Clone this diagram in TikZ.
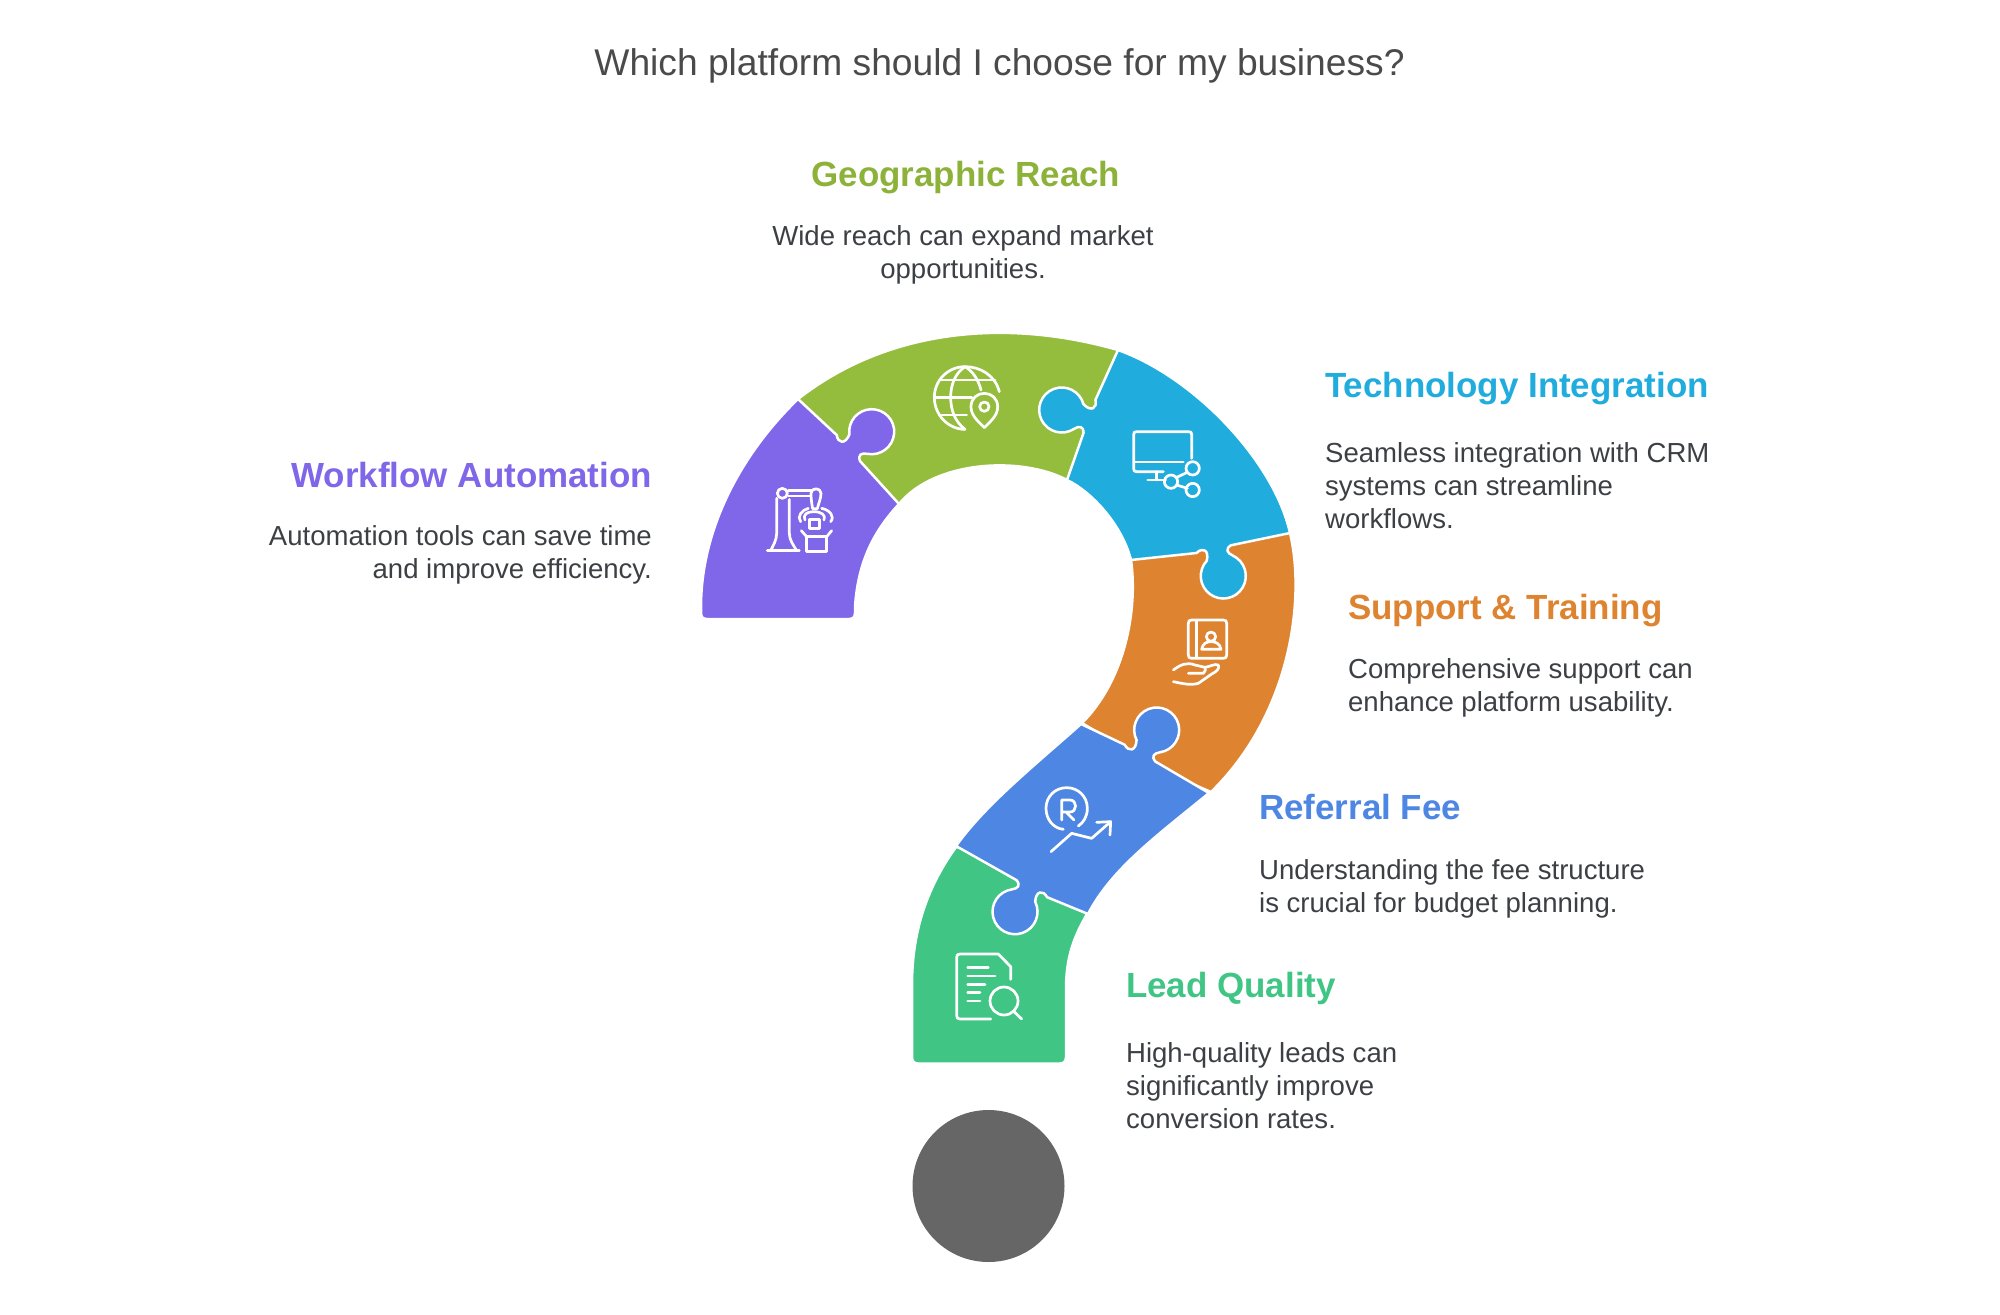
\documentclass[tikz,border=0pt]{standalone}
\usepackage{fontspec}
\setmainfont{Liberation Sans}

\tikzset{
  kf/.style n args={4}{shift={(#1,#2)},rotate=#3,xscale=#4},
  piece/.style={draw=white, line width=.125cm, line join=round},
  icon/.style={draw=white, line width=.135cm, line cap=round, line join=round},
  titletext/.style={inner sep=0, text=titlegray, font=\fontsize{52.9}{60}\selectfont},
  headtext/.style={inner sep=0, font=\bfseries\fontsize{49.7}{58}\selectfont},
  bodytext/.style={inner sep=0, text=bodygray, font=\fontsize{39.2}{47}\selectfont},
}

% one puzzle knob, given its centre, rotation and mirror
\newcommand{\knob}[4]{-- ([kf={#1}{#2}{#3}{#4}]-22,27.5)
  .. controls ([kf={#1}{#2}{#3}{#4}]-15,32.5) and ([kf={#1}{#2}{#3}{#4}]-9,28) .. ([kf={#1}{#2}{#3}{#4}]-13.5,18)
  .. controls ([kf={#1}{#2}{#3}{#4}]-24.2,10) and ([kf={#1}{#2}{#3}{#4}]-25.6,-5.5) .. ([kf={#1}{#2}{#3}{#4}]-16.5,-15.3)
  .. controls ([kf={#1}{#2}{#3}{#4}]-7.4,-25.1) and ([kf={#1}{#2}{#3}{#4}]8.1,-24.9) .. ([kf={#1}{#2}{#3}{#4}]16.9,-14.85)
  .. controls ([kf={#1}{#2}{#3}{#4}]25.7,-4.8) and ([kf={#1}{#2}{#3}{#4}]23.9,10.7) .. ([kf={#1}{#2}{#3}{#4}]13,18.4)
  .. controls ([kf={#1}{#2}{#3}{#4}]8,22) and ([kf={#1}{#2}{#3}{#4}]6.5,26) .. ([kf={#1}{#2}{#3}{#4}]13,28.8)}

\begin{document}
\begin{tikzpicture}[x=.05cm,y=-.05cm]

\definecolor{workflowcolor}{HTML}{8066E8}
\definecolor{geocolor}{HTML}{94BC3D}
\definecolor{techcolor}{HTML}{20ACDC}
\definecolor{supportcolor}{HTML}{DE8330}
\definecolor{referralcolor}{HTML}{4E86E3}
\definecolor{leadcolor}{HTML}{40C585}
\definecolor{dotgray}{HTML}{666666}
\definecolor{titlegray}{HTML}{4A4A4A}
\definecolor{bodygray}{HTML}{3C3F44}

    \useasboundingbox (0,0) rectangle (2000,1315);

    %% lower pieces, their seams stay under the knobbed ones
    \draw[piece, fill=geocolor] (798,399) .. controls (890,327) and (1010,319) .. (1118,350)
      -- (1100,430) -- (1067,480) .. controls (1022,456) and (935,460) .. (899,504) -- (840,470) -- cycle;
    \draw[piece, fill=supportcolor] (1290,533) .. controls (1306,600) and (1290,715) .. (1211,792)
      -- (1160,770) -- (1082,723) .. controls (1125,680) and (1138,610) .. (1131,560) -- (1220,530) -- cycle;
    \draw[piece, fill=leadcolor] (956,847) .. controls (925,890) and (912,935) .. (912,985)
      -- (912,1057) .. controls (912,1061) and (914,1063.5) .. (918,1063.5) -- (1060,1063.5)
      .. controls (1064,1063.5) and (1066,1061) .. (1066,1057) -- (1066,990)
      .. controls (1066,960) and (1072,940) .. (1087,914) -- (1020,860) -- cycle;

    %% pieces with knobs
    \draw[piece, fill=workflowcolor] (798,399) \knob{871.7}{431.7}{-46}{1} -- (899,504)
      .. controls (875,530) and (858,560) .. (855,607) -- (855,613)
      .. controls (855,617) and (853,619) .. (849,619) -- (707,619)
      .. controls (703,619) and (701,617) .. (701,613) -- (701,607)
      .. controls (701,529) and (741,454) .. cycle;
    \draw[piece, fill=techcolor] (1118,350) \knob{1061.7}{410}{68}{-1} -- (1067,480)
      .. controls (1092,492) and (1122,525) .. (1131,560) \knob{1223.3}{576}{190.5}{-1} -- (1290,533)
      .. controls (1274,461) and (1194,377) .. cycle;
    \draw[piece, fill=referralcolor] (1081,724) \knob{1156.7}{730}{-26.6}{1} -- (1209,793)
      .. controls (1158,835) and (1112,868) .. (1088,914) \knob{1015}{911.7}{153}{1} -- (956,846)
      .. controls (985,805) and (1035,765) .. cycle;

    %% the dot
    \node[circle, fill=dotgray, inner sep=0, minimum size=7.6cm] (dot) at (988.5,1186) {};

    %% workflow icon
    \begin{scope}[shift={(680,320)},scale=1/3]
      \draw[icon] (307,520) circle[radius=15];
      \draw[icon] (325,512) -- (395,512) (325,528) -- (392,528);
      \draw[icon] (393,520) .. controls (393,502) and (423,502) .. (423,520) .. controls (423,535) and (415,552) .. (412,566) -- (398,566) .. controls (395,552) and (393,535) .. (393,520);
      \draw[icon] (290,535) -- (290,640) .. controls (290,660) and (280,675) .. (272,692);
      \draw[icon] (328,538) -- (328,640) .. controls (328,660) and (340,675) .. (350,692);
      \draw[icon] (262,692) -- (358,692);
      \draw[icon] (385,565) .. controls (365,570) and (350,590) .. (362,605) (375,600) .. controls (368,585) and (380,575) .. (400,575) .. controls (425,575) and (438,585) .. (432,600) (425,565) .. controls (450,570) and (465,590) .. (452,605);
      \draw[icon] (388,598) rectangle (418,625);
      \draw[icon] (380,650) rectangle (440,694);
      \draw[icon] (364,632) -- (380,650) (455,632) -- (440,650);
    \end{scope}

    %% geographic icon
    \begin{scope}[shift={(680,320)},scale=1/3]
      \draw[icon] (958,215) .. controls (945,165) and (900,140) .. (855,140) .. controls (805,140) and (763,180) .. (763,232) .. controls (763,285) and (805,328) .. (855,328);
      \draw[icon] (855,140) .. controls (825,160) and (812,195) .. (812,232) .. controls (812,270) and (825,305) .. (855,328);
      \draw[icon] (855,140) .. controls (880,155) and (895,180) .. (903,210);
      \draw[icon] (785,180) -- (945,180) (765,232) -- (875,232) (785,285) -- (860,285);
      \draw[icon] (913,323) .. controls (890,300) and (873,285) .. (873,260) .. controls (873,235) and (892,220) .. (913,220) .. controls (934,220) and (953,235) .. (953,260) .. controls (953,285) and (936,300) .. (913,323);
      \draw[icon] (913,260) circle[radius=14];
    \end{scope}

    %% technology icon
    \begin{scope}[shift={(1000,330)},scale=1/3]
      \draw[icon] (490,425) -- (410,425) .. controls (403,425) and (401,423) .. (401,416) -- (401,314) .. controls (401,307) and (403,305) .. (410,305) -- (566,305) .. controls (573,305) and (575,307) .. (575,314) -- (575,385);
      \draw[icon] (403,396) -- (550,396);
      \draw[icon] (470,425) -- (470,450) (443,450) -- (497,450);
      \draw[icon] (578,415) circle[radius=20] (513,455) circle[radius=20] (578,480) circle[radius=20];
      \draw[icon] (530,442) -- (562,427) (530,465) -- (562,475);
    \end{scope}

    %% support icon
    \begin{scope}[shift={(1040,520)},scale=1/3]
      \draw[icon] (455,300) -- (550,300) .. controls (557,300) and (560,303) .. (560,310) -- (560,405) .. controls (560,412) and (557,415) .. (550,415) -- (455,415) .. controls (448,415) and (445,412) .. (445,405) -- (445,310) .. controls (445,303) and (448,300) .. (455,300);
      \draw[icon] (470,302) -- (470,413);
      \draw[icon] (513,350) circle[radius=14];
      \draw[icon] (485,388) .. controls (488,370) and (500,365) .. (513,365) .. controls (526,365) and (540,370) .. (543,388) -- cycle;
      \draw[icon] (400,450) .. controls (420,435) and (440,425) .. (465,435) -- (495,442) .. controls (510,440) and (525,430) .. (535,435) .. controls (540,445) and (530,455) .. (515,462) -- (475,490) .. controls (450,497) and (425,490) .. (400,485);
      \draw[icon] (445,460) -- (490,460) .. controls (497,455) and (497,447) .. (495,442);
    \end{scope}

    %% referral icon
    \begin{scope}[shift={(900,700)},scale=1/3]
      \draw[icon] (490,388) .. controls (460,385) and (438,358) .. (438,325) .. controls (438,290) and (465,263) .. (500,263) .. controls (535,263) and (562,290) .. (562,325) .. controls (562,350) and (550,368) .. (535,378);
      \draw[icon] (485,360) -- (485,300) -- (510,300) .. controls (532,300) and (532,336) .. (510,336) -- (485,336) (498,336) -- (522,360);
      \draw[icon] (453,455) -- (515,400) -- (575,415) -- (632,365);
      \draw[icon] (590,367) -- (632,365) -- (630,405);
    \end{scope}

    %% lead icon
    \begin{scope}[shift={(900,700)},scale=1/3]
      \draw[icon] (272,957) -- (180,957) .. controls (173,957) and (170,954) .. (170,947) -- (170,772) .. controls (170,765) and (173,762) .. (180,762) -- (295,762) -- (332,800) -- (332,838);
      \draw[icon] (203,803) -- (265,803) (203,828) -- (285,828) (203,853) -- (255,853) (203,878) -- (240,878) (203,903) -- (240,903);
      \draw[icon] (312,903) circle[radius=42];
      \draw[icon] (342,935) -- (365,957);
    \end{scope}

    %% title
    \node[titletext] (title) at (999.5,66) {Which platform should I choose for my business?};

    %% labels
    \node[headtext, text=geocolor!95!black] (geohead) at (966,177.5) {Geographic Reach};
    \node[bodytext, align=center] (geobody) at (963,255) {Wide reach can expand market\\opportunities.};

    \node[headtext, text=techcolor, anchor=mid west] (techhead) at (1325,396) {Technology Integration};
    \node[bodytext, align=left, anchor=west] (techbody) at (1325,486) {Seamless integration with CRM\\systems can streamline\\workflows.};

    \node[headtext, text=workflowcolor, anchor=mid east] (workflowhead) at (652,486) {Workflow Automation};
    \node[bodytext, align=right, anchor=east] (workflowbody) at (652,555) {Automation tools can save time\\and improve efficiency.};

    \node[headtext, text=supportcolor, anchor=mid west] (supporthead) at (1348,618) {Support \& Training};
    \node[bodytext, align=left, anchor=west] (supportbody) at (1348,688) {Comprehensive support can\\enhance platform usability.};

    \node[headtext, text=referralcolor, anchor=mid west] (referralhead) at (1259,818) {Referral Fee};
    \node[bodytext, align=left, anchor=west] (referralbody) at (1259,889) {Understanding the fee structure\\is crucial for budget planning.};

    \node[headtext, text=leadcolor, anchor=mid west] (leadhead) at (1126,996) {Lead Quality};
    \node[bodytext, align=left, anchor=west] (leadbody) at (1126,1086) {High-quality leads can\\significantly improve\\conversion rates.};

\end{tikzpicture}
\end{document}
